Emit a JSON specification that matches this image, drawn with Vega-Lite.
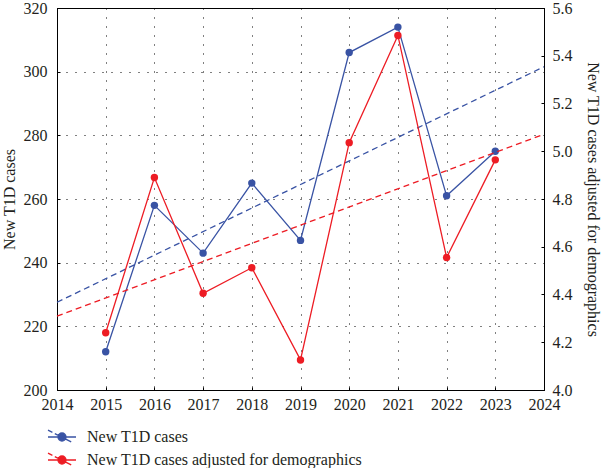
{
  "$schema": "https://vega.github.io/schema/vega-lite/v6.json",
  "width": 487,
  "height": 382,
  "autosize": {"type": "none"},
  "padding": {"left": 57, "top": 8, "right": 57, "bottom": 78},
  "background": "white",
  "config": {
    "font": "Liberation Serif",
    "view": {"stroke": "black", "strokeWidth": 1},
    "axis": {
      "labelFont": "Liberation Serif",
      "titleFont": "Liberation Serif",
      "labelFontSize": 16,
      "titleFontSize": 16,
      "titleFontWeight": "normal",
      "labelColor": "#231f20",
      "titleColor": "#231f20",
      "domainColor": "black",
      "tickColor": "black",
      "tickSize": -3,
      "gridColor": "black",
      "gridDash": [1, 8],
      "gridOpacity": 1,
      "gridWidth": 1
    },
    "legend": {
      "labelFont": "Liberation Serif",
      "labelFontSize": 16,
      "labelColor": "#231f20",
      "labelLimit": 500
    }
  },
  "data": {
    "values": [
      {"year": 2015, "cases": 212, "adjusted": 4.24},
      {"year": 2016, "cases": 258, "adjusted": 4.89},
      {"year": 2017, "cases": 243, "adjusted": 4.405},
      {"year": 2018, "cases": 265, "adjusted": 4.512},
      {"year": 2019, "cases": 247, "adjusted": 4.126},
      {"year": 2020, "cases": 306, "adjusted": 5.036},
      {"year": 2021, "cases": 314, "adjusted": 5.485},
      {"year": 2022, "cases": 261, "adjusted": 4.555},
      {"year": 2023, "cases": 275, "adjusted": 4.964}
    ]
  },
  "encoding": {
    "x": {
      "field": "year",
      "type": "quantitative",
      "scale": {"domain": [2014, 2024], "nice": false, "zero": false},
      "axis": {
        "title": null,
        "format": "d",
        "values": [2014, 2015, 2016, 2017, 2018, 2019, 2020, 2021, 2022, 2023, 2024],
        "grid": true,
        "labelPadding": 9,
        "labelFlush": false,
        "labelFont": "Liberation Serif",
        "labelFontSize": 16
      }
    }
  },
  "layer": [
    {
      "encoding": {
        "y": {
          "type": "quantitative",
          "scale": {"domain": [200, 320], "nice": false, "zero": false},
          "axis": {
            "title": "New T1D cases",
            "orient": "left",
            "values": [200, 220, 240, 260, 280, 300, 320],
            "grid": true,
            "labelPadding": 13,
            "titlePadding": 6,
            "labelFlush": false,
            "labelFont": "Liberation Serif",
            "labelFontSize": 16,
            "titleFont": "Liberation Serif"
          }
        }
      },
      "layer": [
        {
          "transform": [{"regression": "cases", "on": "year", "extent": [2014, 2024]}],
          "mark": {"type": "line", "color": "#3953A4", "strokeWidth": 1.3, "strokeDash": [6, 4]},
          "encoding": {"y": {"field": "cases"}}
        },
        {
          "mark": {"type": "line", "strokeWidth": 1.3, "point": {"filled": true, "size": 55, "opacity": 1}},
          "encoding": {
            "y": {"field": "cases"},
            "color": {
              "datum": "New T1D cases",
              "scale": {
                "domain": ["New T1D cases", "New T1D cases adjusted for demographics"],
                "range": ["#3953A4", "#ED1C24"]
              },
              "legend": {
                "title": null,
                "orient": "none",
                "legendX": -4,
                "legendY": 420,
                "padding": 0,
                "symbolType": "M-1.75,0L1.75,0M-1.75,-0.85L-1.2,-0.58M-0.9,-0.43L1.15,0.6M0.5,0A0.5,0.5 0 1,1 -0.5,0A0.5,0.5 0 1,1 0.5,0Z",
                "symbolSize": 256,
                "symbolStrokeWidth": 1.3,
                "labelOffset": 16,
                "rowPadding": 5,
                "labelFont": "Liberation Serif",
                "labelFontSize": 16,
                "labelLimit": 500,
                "encode": {
                  "symbols": {
                    "update": {
                      "fill": {"scale": "color", "field": "value"},
                      "stroke": {"scale": "color", "field": "value"},
                      "opacity": {"value": 1}
                    }
                  },
                  "labels": {
                    "update": {
                      "font": {"value": "Liberation Serif"},
                      "fontSize": {"value": 16}
                    }
                  }
                }
              }
            }
          }
        }
      ]
    },
    {
      "encoding": {
        "y": {
          "type": "quantitative",
          "scale": {"domain": [4.0, 5.6], "nice": false, "zero": false},
          "axis": {
            "title": "New T1D cases adjusted for demographics",
            "orient": "right",
            "format": ".1f",
            "values": [4.0, 4.2, 4.4, 4.6, 4.8, 5.0, 5.2, 5.4, 5.6],
            "grid": false,
            "labelPadding": 11,
            "titlePadding": 12,
            "labelFlush": false,
            "labelFont": "Liberation Serif",
            "labelFontSize": 16,
            "titleFont": "Liberation Serif"
          }
        }
      },
      "layer": [
        {
          "transform": [{"regression": "adjusted", "on": "year", "extent": [2014, 2024]}],
          "mark": {"type": "line", "color": "#ED1C24", "strokeWidth": 1.3, "strokeDash": [6, 4]},
          "encoding": {"y": {"field": "adjusted"}}
        },
        {
          "mark": {"type": "line", "strokeWidth": 1.3, "point": {"filled": true, "size": 55, "opacity": 1}},
          "encoding": {
            "y": {"field": "adjusted"},
            "color": {"datum": "New T1D cases adjusted for demographics"}
          }
        }
      ]
    }
  ],
  "resolve": {"scale": {"y": "independent"}}
}
